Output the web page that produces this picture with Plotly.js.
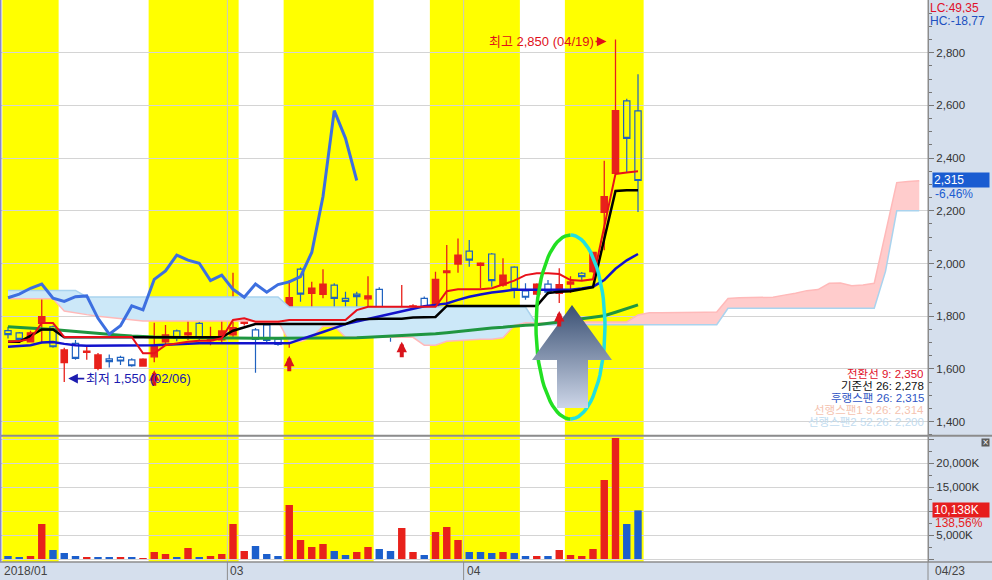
<!DOCTYPE html>
<html><head><meta charset="utf-8">
<script src="https://cdn.plot.ly/plotly-3.0.1.min.js"></script>
<style>html,body{margin:0;padding:0;background:#fff}#chart{width:992px;height:580px}</style>
</head><body><div id="chart"></div>
<script>
// ---------------- DATA ----------------
const dates = ['01/30','01/31','02/01','02/02','02/05','02/06','02/07','02/08','02/09','02/12',
  '02/13','02/14','02/19','02/20','02/21','02/22','02/23','02/26','02/27','02/28',
  '03/02','03/05','03/06','03/07','03/08','03/09','03/12','03/13','03/14','03/15',
  '03/16','03/19','03/20','03/21','03/22','03/23','03/26','03/27','03/28','03/29',
  '03/30','04/02','04/03','04/04','04/05','04/06','04/09','04/10','04/11','04/12',
  '04/13','04/16','04/17','04/18','04/19','04/20','04/23'];
const open  = [1745,1737,1703,1773,1760,1624,1697,1663,1602,1638,1644,1634,1611,1646,1703,1744,1729,1773,1707,1710,
  1729,1773,1748,1767,1713,1729,1979,1887,1883,1918,1868,1884,1866,1902,1748,1735,1779,1868,1824,1965,
  1998,2047,1993,2036,1918,1986,1896,1884,1922,1887,1922,1963,1969,2194,2342,2617,2579];
const high  = [1760,1740,1745,1880,1765,1680,1710,1685,1660,1655,1650,1640,1640,1775,1767,1750,1800,1778,1760,1790,
  1965,1850,1755,1772,1720,1937,1985,1931,1978,1925,1893,1893,1952,1910,1797,1918,1845,1875,1969,2070,
  2095,2089,2005,2040,2020,1990,1925,1925,1937,1982,1952,1968,2045,2390,2850,2625,2718];
const low   = [1715,1698,1700,1700,1680,1550,1635,1635,1595,1605,1615,1608,1609,1625,1690,1705,1710,1708,1690,1695,
  1722,1765,1585,1700,1688,1680,1855,1817,1868,1826,1830,1817,1836,1790,1703,1733,1735,1815,1792,1842,
  1965,1988,1906,1912,1912,1868,1862,1880,1880,1850,1888,1935,1965,2050,2342,2345,2195];
const close = [1730,1712,1737,1798,1684,1672,1640,1667,1653,1628,1630,1612,1637,1690,1729,1716,1737,1716,1720,1744,
  1757,1794,1712,1708,1693,1870,1884,1906,1922,1868,1856,1874,1877,1792,1732,1764,1839,1824,1940,1972,
  2032,2013,2001,1935,1956,1902,1872,1922,1891,1920,1930,1950,2042,2254,2580,2475,2315];
const volumeK = [625,420,625,7290,1875,1250,625,420,420,420,420,420,210,1460,1040,420,2290,420,625,1040,
  7290,1670,2710,1040,625,11250,3960,2500,3125,1670,830,1460,2500,2080,1670,6460,1460,830,5625,6670,
  3960,1460,1460,1250,1460,1250,625,625,625,1875,830,625,2080,16460,25200,7290,10138];
const tenkan = [1703,1706,1713,1774,1774,1721,1721,1721,1721,1721,1721,1721,1659,1659,1690,1697,1703,1707,1707,1716,
  1786,1792,1779,1779,1779,1786,1786,1786,1786,1786,1786,1823,1836,1836,1836,1836,1836,1836,1836,1895,
  1902,1902,1902,1906,1922,1935,1956,1963,1963,1960,1937,1935,1940,2137,2340,2345,2350];
const kijun = [1703,1703,1725,1750,1750,1720,1720,1720,1720,1720,1720,1720,1720,1720,1720,1720,1720,1720,1720,1720,
  1745,1758,1770,1770,1770,1770,1770,1770,1770,1770,1770,1788,1790,1790,1790,1790,1795,1795,1797,1839,
  1839,1839,1839,1839,1839,1839,1839,1839,1888,1893,1895,1902,1910,2093,2275,2278,2278];
const ma20 = [1684,1686,1690,1700,1702,1695,1690,1688,1688,1688,1688,1688,1688,1690,1692,1694,1695,1697,1697,1697,
  1697,1695,1695,1695,1695,1697,1712,1725,1740,1755,1770,1780,1790,1800,1808,1818,1830,1838,1843,1848,
  1862,1874,1882,1890,1895,1900,1900,1900,1900,1900,1900,1905,1912,1937,1980,2012,2036];
const ma60 = [1760,1758,1755,1752,1750,1746,1742,1738,1735,1732,1728,1725,1722,1721,1720,1719,1718,1718,1717,1717,
  1717,1716,1716,1716,1716,1716,1716,1716,1716,1716,1716,1718,1720,1722,1723,1725,1727,1730,1733,1737,
  1742,1747,1752,1755,1758,1763,1766,1768,1772,1778,1785,1790,1795,1802,1815,1828,1843];
const senkou1 = [1866,1866,1866,1866,1866,1820,1812,1806,1800,1795,1790,1786,1782,1782,1782,1782,1782,1782,1782,1782,
  1782,1782,1782,1782,1782,1703,1704,1719,1762,1762,1720,1720,1720,1720,1720,1720,1720,1690,1690,1705,
  1708,1711,1713,1713,1718,1765,1775,1774,1774,1774,1778,1778,1778,1778,1778,1778,1805,1813,1813,1813,
  1813,1815,1815,1816,1867,1870,1870,1870,1872,1880,1887,1897,1901,1925,1926,1916,1918,1925,2115,2307,
  2311,2314];
const senkou2 = [1898,1898,1898,1898,1898,1898,1898,1873,1873,1873,1873,1873,1873,1873,1873,1873,1873,1873,1873,1873,
  1873,1873,1873,1873,1873,1835,1835,1835,1835,1835,1835,1835,1835,1835,1835,1835,1835,1835,1835,1835,
  1835,1835,1835,1835,1835,1835,1835,1768,1768,1768,1768,1768,1768,1768,1768,1768,1768,1768,1768,1768,
  1768,1768,1768,1768,1830,1830,1830,1830,1830,1830,1830,1830,1830,1830,1830,1830,1830,1830,1970,2200,
  2200,2200];
const chikouShift = 25;
const bandStartIdx = [0,13,25,38,50];
const bandEndIdx   = [4,20,32,45,56];
const signalIdx = [13,25,35,49];
const monthTickIdx = [0,20,41];
const monthTickText = ['2018/01','03','04'];

// ---------------- GEOMETRY ----------------
const W=992, H=580, MR=64, MB=18;
const PW=W-MR, PH=H-MB;
const xRange=[-8/11.25, (PW-8)/11.25];
const priceRange=[1349.2, 2999.9];
const volRange=[-625, 25521];
const priceDomain=[1-435/PH, 1];
const volDomain=[0, 1-436.5/PH];
const paperY = py => 1 - py/PH;
const paperX = px => px/PW;
const idxPaper = i => (i-xRange[0])/(xRange[1]-xRange[0]);
const pxIdx = px => xRange[0] + px/PW*(xRange[1]-xRange[0]);
const pyPrice = py => { const top=(1-priceDomain[1])*PH, bot=(1-priceDomain[0])*PH;
  return priceRange[1] - (py-top)/(bot-top)*(priceRange[1]-priceRange[0]); };

const RED='#e8211b', BLUE='#1c5fcc', CBLUE='#1f62c0';
const idx = close.map((_,i)=>i);
const cloudX = senkou1.map((_,i)=>i);
const cloudTop = senkou1.map((v,i)=>Math.max(v, senkou2[i]));
const chX = [], chY = [];
for (let i=chikouShift;i<close.length;i++){ chX.push(i-chikouShift); chY.push(close[i]); }
const volColors = volumeK.map((v,i)=>{ const ref = i===0?open[0]:close[i-1]; return close[i]>=ref?RED:BLUE; });

const traces=[];
const L = (x,y,color,width,extra)=>Object.assign({type:'scatter',mode:'lines',x,y,line:{color,width},hoverinfo:'skip'},extra||{});
traces.push(L(cloudX,senkou1,'rgba(0,0,0,0)',0));
traces.push(L(cloudX,cloudTop,'rgba(0,0,0,0)',0,{fill:'tonexty',fillcolor:'#cce8f8'}));
traces.push(L(cloudX,senkou2,'rgba(0,0,0,0)',0));
traces.push(L(cloudX,cloudTop,'rgba(0,0,0,0)',0,{fill:'tonexty',fillcolor:'#ffcccc'}));
traces.push(L(cloudX,senkou2,'#a9d3ee',1.5));
traces.push(L(cloudX,senkou1,'#ffb9b9',1.5));
traces.push({type:'candlestick',x:idx,open,high,low,close,whiskerwidth:0,hoverinfo:'skip',
  increasing:{line:{color:RED,width:1.3},fillcolor:RED},
  decreasing:{line:{color:CBLUE,width:1.2},fillcolor:'rgba(255,255,255,0)'}});
traces.push(L(idx,ma60,'#1f9640',3));
traces.push(L(idx,ma20,'#1212cc',2.5));
traces.push(L(idx,kijun,'#000000',2.5));
traces.push(L(idx,tenkan,'#e8101a',2));
traces.push(L(chX,chY,'#3d6fe0',3));

// ellipse (decoration)
const ecx=570.5, ecy=327, erx=34.5, ery=92;
function halfEllipse(a0,a1){ const xs=[],ys=[]; for(let k=0;k<=40;k++){ const t=(a0+(a1-a0)*k/40)*Math.PI/180;
  xs.push(pxIdx(ecx+erx*Math.cos(t))); ys.push(pyPrice(ecy-ery*Math.sin(t))); } return [xs,ys]; }
const eL=halfEllipse(90,270), eR=halfEllipse(-90,90);
traces.push(L(eL[0],eL[1],'#22e022',3.5));
traces.push(L(eR[0],eR[1],'#22e0e0',3.5));
// big arrow (decoration)
const arrPx=[[572,305],[612,360],[588,360],[588,408],[557,408],[557,360],[532,360],[572,305]];
traces.push({type:'scatter',mode:'lines',x:arrPx.map(p=>pxIdx(p[0])),y:arrPx.map(p=>pyPrice(p[1])),
  line:{width:0,color:'rgba(0,0,0,0)'},fill:'toself',fillcolor:'#7d8fae',hoverinfo:'skip',
  fillgradient:{type:'vertical',start:pyPrice(408),stop:pyPrice(305),colorscale:[[0,'#cdd6e8'],[1,'#3a5073']]}});
// volume
traces.push({type:'bar',x:idx,y:volumeK,xaxis:'x2',yaxis:'y2',width:0.66,marker:{color:volColors,line:{width:0}},hoverinfo:'skip'});

// ---------------- SHAPES ----------------
const shapes=[];
bandStartIdx.forEach((s,k)=>{
  ['y domain','y2 domain'].forEach((yr,j)=>{
    shapes.push({type:'rect',layer:'below',xref:j?'x2':'x',yref:yr,x0:s-0.5,x1:bandEndIdx[k]+0.5,y0:0,y1:1,fillcolor:'#ffff00',line:{width:0}});
  });
});
monthTickIdx.slice(1).forEach(m=>{
  ['y domain','y2 domain'].forEach((yr,j)=>{
    shapes.push({type:'line',layer:'below',xref:j?'x2':'x',yref:yr,x0:m-0.5,x1:m-0.5,y0:0,y1:1,line:{color:'#c8c8c8',width:1}});
  });
  shapes.push({type:'line',xref:'paper',yref:'paper',x0:idxPaper(m-0.5),x1:idxPaper(m-0.5),y0:0,y1:-MB/PH,line:{color:'#8c8c8c',width:1}});
});
shapes.push({type:'line',xref:'paper',yref:'paper',x0:0,x1:W/PW,y0:paperY(435.7),y1:paperY(435.7),line:{color:'#8c8c8c',width:2}});
shapes.push({type:'line',xref:'paper',yref:'paper',x0:0,x1:W/PW,y0:0,y1:0,line:{color:'#8c8c8c',width:1.5}});
shapes.push({type:'line',xref:'paper',yref:'paper',x0:1,x1:1,y0:-MB/PH,y1:1,line:{color:'#8c8c8c',width:1}});
shapes.push({type:'line',xref:'paper',yref:'paper',x0:0.0008,x1:0.0008,y0:0,y1:1,line:{color:'#8888c8',width:1.5}});

// ---------------- ANNOTATIONS ----------------
const fmt = v => Math.round(v).toLocaleString('en-US');
const KR = 'Liberation Sans, Noto Sans CJK KR, sans-serif';
const ann=[];
signalIdx.forEach(i=>ann.push({x:i,y:low[i],xref:'x',yref:'y',text:'',showarrow:true,ax:0,ay:25,
  arrowhead:2,arrowsize:0.52,arrowwidth:4,arrowcolor:'#d9141c',standoff:8}));
const iMax = high.indexOf(Math.max(...high)), iMin = low.indexOf(Math.min(...low));
ann.push({x:iMax,y:high[iMax],xref:'x',yref:'y',text:'최고 '+fmt(high[iMax])+' ('+dates[iMax]+')',showarrow:true,
  ax:-20,ay:0,xanchor:'right',yshift:-2,standoff:9,arrowhead:2,arrowsize:1.2,arrowwidth:1.6,arrowcolor:'#e0101a',
  font:{family:KR,size:13,color:'#e0101a'}});
ann.push({x:iMin,y:low[iMin],xref:'x',yref:'y',text:'최저 '+fmt(low[iMin])+' ('+dates[iMin]+')',showarrow:true,
  ax:20,ay:0,xanchor:'left',yshift:3.5,standoff:4,arrowhead:2,arrowsize:1.2,arrowwidth:1.6,arrowcolor:'#1c1cb0',
  font:{family:KR,size:13,color:'#1c1cb0'}});
const legendRows=[['전환선 9: ',tenkan[tenkan.length-1],'#e0102a'],['기준선 26: ',kijun[kijun.length-1],'#111111'],
  ['후행스팬 26: ',close[close.length-1],'#2f55c4'],['선행스팬1 9,26: ',senkou1[senkou1.length-1],'#f5c3b0'],
  ['선행스팬2 52,26: ',senkou2[senkou2.length-1],'#c2dcf0']];
const legY=[373.5,385.5,397.5,409.5,421.5];
legendRows.forEach((r,k)=>ann.push({xref:'paper',yref:'paper',x:paperX(925),y:paperY(legY[k]),xanchor:'right',yanchor:'middle',
  showarrow:false,height:10,borderpad:0,text:r[0]+fmt(r[1]),font:{family:KR,size:11.5,color:r[2]}}));
ann.push({xref:'paper',yref:'paper',x:1,xshift:1,y:paperY(8),xanchor:'left',yanchor:'middle',showarrow:false,height:10,borderpad:0,text:'LC:49,35',font:{family:KR,size:12,color:'#e0102a'}});
ann.push({xref:'paper',yref:'paper',x:1,xshift:1,y:paperY(20.5),xanchor:'left',yanchor:'middle',showarrow:false,height:10,borderpad:0,text:'HC:-18,77',font:{family:KR,size:12,color:'#2050c0'}});
ann.push({xref:'paper',yref:'y',x:1,xshift:4,y:close[close.length-1],xanchor:'left',yanchor:'middle',showarrow:false,
  text:fmt(close[close.length-1]),bgcolor:'#1a5cd1',width:54,height:12,align:'left',borderpad:1,font:{family:KR,size:12,color:'#ffffff'}});
ann.push({xref:'paper',yref:'y',x:1,xshift:6,y:close[close.length-1],yshift:-13,xanchor:'left',yanchor:'middle',showarrow:false,height:11,borderpad:0,
  text:'-6,46%',font:{family:KR,size:12,color:'#1a5cd1'}});
ann.push({xref:'paper',yref:'y2',x:1,xshift:4,y:volumeK[volumeK.length-1],xanchor:'left',yanchor:'middle',showarrow:false,
  text:fmt(volumeK[volumeK.length-1])+'K',bgcolor:'#e61e1e',width:54,height:12,align:'left',borderpad:1,font:{family:KR,size:12,color:'#ffffff'}});
ann.push({xref:'paper',yref:'y2',x:1,xshift:6,y:volumeK[volumeK.length-1],yshift:-12.5,xanchor:'left',yanchor:'middle',showarrow:false,height:10,borderpad:0,
  text:'138,56%',font:{family:KR,size:12,color:'#e61e1e'}});
ann.push({xref:'paper',yref:'paper',x:paperX(985.5),y:paperY(442),xanchor:'center',yanchor:'middle',showarrow:false,
  text:'×',bgcolor:'#5a5a5a',width:7,height:7,borderpad:0,font:{family:'DejaVu Sans',size:8,color:'#ffffff'}});
monthTickIdx.forEach((m,k)=>ann.push({xref:'paper',yref:'paper',x:idxPaper(m-0.5),xshift:k?1:0,y:paperY(571),xanchor:'left',yanchor:'middle',
  showarrow:false,text:monthTickText[k],font:{family:KR,size:12,color:'#444'}}));
ann.push({xref:'paper',yref:'paper',x:1,xshift:5,y:paperY(571),xanchor:'left',yanchor:'middle',showarrow:false,
  text:dates[dates.length-1],font:{family:KR,size:12,color:'#444'}});

// ---------------- LAYOUT ----------------
const axCommon={zeroline:false,fixedrange:true};
const layout={width:W,height:H,margin:{l:0,r:MR,t:0,b:MB,pad:0},paper_bgcolor:'#d5dfed',plot_bgcolor:'#ffffff',
  showlegend:false,hovermode:false,boxgap:0.2,font:{family:KR,size:11.5,color:'#333'},
  xaxis:Object.assign({domain:[0,1],range:xRange,anchor:'y',showticklabels:false,showgrid:false,ticks:'',rangeslider:{visible:false}},axCommon),
  xaxis2:Object.assign({domain:[0,1],range:xRange,anchor:'y2',showticklabels:false,showgrid:false,ticks:''},axCommon),
  yaxis:Object.assign({domain:priceDomain,range:priceRange,side:'right',anchor:'x',tick0:0,dtick:200,tickformat:',d',ticks:'outside',ticklen:5,
    tickcolor:'#777',gridcolor:'#d4d4d4',showline:true,linecolor:'#8c8c8c',linewidth:1,
    minor:{tick0:0,dtick:50,ticklen:3,tickcolor:'#777',showgrid:false},tickfont:{size:11.5,color:'#333'}},axCommon),
  yaxis2:Object.assign({domain:volDomain,range:volRange,side:'right',anchor:'x2',tickmode:'array',
    tickvals:[0,5000,10000,15000,20000,25000],ticktext:['','5,000K','','15,000K','20,000K',''],ticks:'outside',ticklen:5,
    tickcolor:'#777',gridcolor:'#d4d4d4',showline:true,linecolor:'#8c8c8c',linewidth:1,
    minor:{tickmode:'linear',tick0:0,dtick:2500,ticklen:3,tickcolor:'#777',showgrid:false},tickfont:{size:11.5,color:'#333'}},axCommon),
  shapes,annotations:ann};
Plotly.newPlot('chart',traces,layout,{staticPlot:true,displayModeBar:false});
</script></body></html>
